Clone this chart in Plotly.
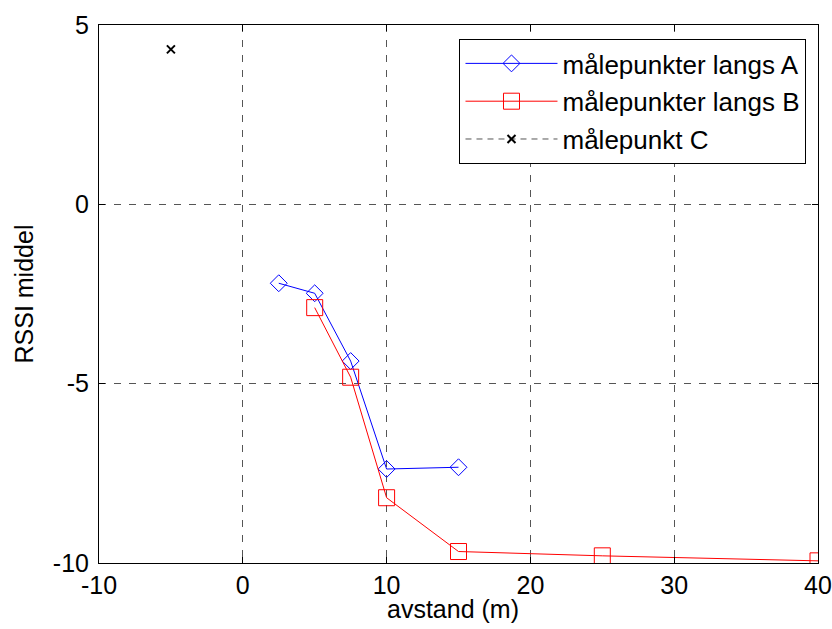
import plotly.graph_objects as go

# data
a_x = [2.5, 5, 7.5, 10, 15]
a_y = [-2.2, -2.48, -4.37, -7.38, -7.33]
b_x = [5, 7.5, 10, 15, 25, 40]
b_y = [-2.88, -4.82, -8.18, -9.68, -9.8, -9.94]
c_x = [-5]
c_y = [4.32]
x_ticks = [-10, 0, 10, 20, 30, 40]
y_ticks = [-10, -5, 0, 5]
x_title = "avstand (m)"
y_title = "RSSI middel"

FONT = "Liberation Sans, Arial, sans-serif"
FS = 25

fig = go.Figure()
fig.add_trace(go.Scatter(
    x=a_x, y=a_y, mode="lines+markers", name="målepunkter langs A", legendgroup="a",
    line=dict(color="#0000ff", width=1),
    marker=dict(symbol="diamond-open", size=13, color="#0000ff", line=dict(width=1, color="#0000ff")),
))
fig.add_trace(go.Scatter(
    x=b_x, y=b_y, mode="lines+markers", name="målepunkter langs B", legendgroup="b",
    line=dict(color="#ff0000", width=1),
    marker=dict(symbol="square-open", size=16, color="#ff0000", line=dict(width=1, color="#ff0000")),
))
fig.add_trace(go.Scatter(
    x=c_x, y=c_y, mode="lines+markers", name="målepunkt C", legendgroup="c",
    line=dict(color="#555555", width=1, dash="6px,5px"),
    marker=dict(symbol="x-thin", size=8, color="#000000", line=dict(width=2, color="#000000")),
))

axis_common = dict(
    showline=True, linecolor="black", linewidth=1, mirror="ticks",
    ticks="inside", ticklen=6, tickcolor="black",
    showgrid=True, gridcolor="#555555", griddash="7px,8px", gridwidth=1,
    zeroline=False, automargin=False,
    tickfont=dict(family=FONT, size=FS, color="black"),
)

fig.update_xaxes(range=[-10, 40], tickvals=x_ticks, ticktext=[str(v) for v in x_ticks],
                 **axis_common)
fig.update_yaxes(range=[-10, 5], tickvals=y_ticks, ticktext=[str(v) for v in y_ticks],
                 ticklabelstandoff=4, **axis_common)

fig.add_annotation(text=x_title, xref="paper", yref="paper", x=0.493, y=-0.086,
                   xanchor="center", yanchor="middle", showarrow=False,
                   font=dict(family=FONT, size=FS, color="black"))
fig.add_annotation(text=y_title, xref="paper", yref="paper", x=-0.105, y=0.5,
                   xanchor="center", yanchor="middle", showarrow=False, textangle=-90,
                   font=dict(family=FONT, size=FS, color="black"))

fig.update_layout(
    width=832, height=629,
    margin=dict(l=99, r=14, t=25, b=66),
    paper_bgcolor="white", plot_bgcolor="white",
    font=dict(family=FONT, size=FS, color="black"),
    showlegend=True,
    legend=dict(
        x=0.984, y=0.974, xanchor="right", yanchor="top",
        bgcolor="white", bordercolor="black", borderwidth=1,
        font=dict(family=FONT, size=26, color="black"),
        itemwidth=92, tracegroupgap=1,
    ),
)

fig.write_html("out.html", config={"displayModeBar": False},
               post_script="document.body.style.margin='0';document.body.style.overflow='hidden';")
